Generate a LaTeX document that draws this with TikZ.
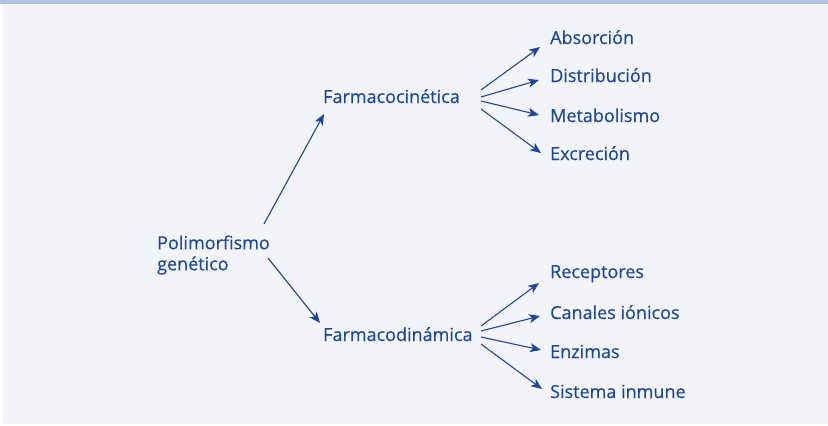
\documentclass[tikz,border=0pt]{standalone}
\usepackage{fontspec}
\setmainfont[FakeBold=0.3]{Open Sans}
\usetikzlibrary{arrows.meta}
\definecolor{textblue}{HTML}{1D4797}
\definecolor{panelbg}{HTML}{F3F4FA}
\definecolor{bandblue}{HTML}{B3C1E2}
\begin{document}
\begin{tikzpicture}[x=1pt,y=-1pt,
	lbl/.style={anchor=base west, inner sep=0pt, text=textblue, font=\fontsize{18}{21}\selectfont},
	arr/.style={-{Stealth[length=11pt,width=9pt,inset=3pt]}, textblue, line width=1.1pt}]
	\useasboundingbox (0,0) rectangle (828,426);
	\fill[white] (0,0) rectangle (828,426);
	\fill[panelbg] (3,0) rectangle (828,424);
	\fill[bandblue] (0,0) rectangle (828,4);
	
	% Nodos
	\node[lbl, anchor=west, align=left] (poly) at (157,255) {Polimorfismo\\genético};
	\node[lbl] (kin) at (323,103) {Farmacocinética};
	\node[lbl] (dyn) at (323,341) {Farmacodinámica};
	
	\node[lbl] (abs) at (550,44) {Absorción};
	\node[lbl] (dis) at (550,82) {Distribución};
	\node[lbl] (met) at (550,122) {Metabolismo};
	\node[lbl] (exc) at (550,160) {Excreción};
	
	\node[lbl] (rec) at (550,278) {Receptores};
	\node[lbl] (can) at (550,319) {Canales iónicos};
	\node[lbl] (enz) at (550,358) {Enzimas};
	\node[lbl] (sis) at (550,398) {Sistema inmune};
	
	% Flechas
	\draw[arr] ([shift={(107,-31)}]poly.west) -- ([shift={(1,11)}]kin.base west);
	\draw[arr] ([shift={(111,3)}]poly.west) -- ([shift={(-3,-18)}]dyn.base west);
	
	\draw[arr] ([shift={(158,-13)}]kin.base west) -- ([shift={(-10,3)}]abs.base west);
	\draw[arr] ([shift={(158,-6)}]kin.base west) -- ([shift={(-11,-2)}]dis.base west);
	\draw[arr] ([shift={(158,-2)}]kin.base west) -- ([shift={(-11,-7)}]met.base west);
	\draw[arr] ([shift={(158,6)}]kin.base west) -- ([shift={(-9,-7)}]exc.base west);
	
	\draw[arr] ([shift={(158,-15)}]dyn.base west) -- ([shift={(-11,5)}]rec.base west);
	\draw[arr] ([shift={(158,-10)}]dyn.base west) -- ([shift={(-10,-3)}]can.base west);
	\draw[arr] ([shift={(158,-4)}]dyn.base west) -- ([shift={(-9,-8)}]enz.base west);
	\draw[arr] ([shift={(158,3)}]dyn.base west) -- ([shift={(-8,-9)}]sis.base west);
\end{tikzpicture}
\end{document}
